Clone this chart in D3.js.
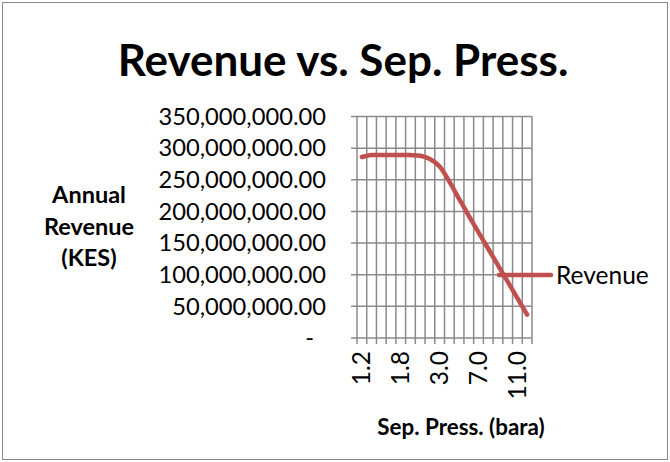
<!DOCTYPE html>
<html>
<head>
<meta charset="utf-8">
<script src="https://cdn.jsdelivr.net/npm/d3@7"></script>
<style>
  html, body { margin: 0; padding: 0; background: #fff; }
  svg { display: block; font-family: Lato, "Open Sans", sans-serif; }
</style>
</head>
<body>
<svg width="670" height="462"></svg>
<script>
// categories (separator pressure, bara) - only every 4th label is shown
const pressures = ["1.2", "1.35", "1.5", "1.65", "1.8", "2.1", "2.4", "2.7", "3.0",
    "4.0", "5.0", "6.0", "7.0", "8.0", "9.0", "10.0", "11.0", "12.0"];
// annual revenue, KES
const revenue = [286e6, 289e6, 289e6, 289e6, 289e6, 289e6, 288e6, 283e6, 271e6,
    247e6, 220e6, 193e6, 167e6, 141e6, 115e6, 89e6, 63e6, 37e6];
const yTicks = [0, 50e6, 100e6, 150e6, 200e6, 250e6, 300e6, 350e6];
const seriesName = "Revenue";

const width = 670;
const height = 462;
const plot = { left: 357, right: 532, top: 116.5, bottom: 338 };
const red = "#C0504D";
const grid = "#8a8a8a";

const svg = d3.select("svg");

// chart area border
svg.append("rect")
    .attr("x", 2.5).attr("y", 2.5)
    .attr("width", width - 5).attr("height", height - 5)
    .attr("fill", "#fff")
    .attr("stroke", "#888").attr("stroke-width", 1);

const x = d3.scaleBand()
    .domain(pressures)
    .range([plot.left, plot.right])
    .padding(0);

const y = d3.scaleLinear()
    .domain([0, 350e6])
    .range([plot.bottom, plot.top]);

// horizontal gridlines
svg.append("g")
    .selectAll("line")
    .data(yTicks)
    .join("line")
    .attr("x1", plot.left - 6).attr("x2", plot.right)
    .attr("y1", d => y(d))
    .attr("y2", d => y(d))
    .attr("stroke", grid).attr("stroke-width", 1.5);

// vertical gridlines at category boundaries
const bounds = pressures.map(p => x(p)).concat([x.range()[1]]);
svg.append("g")
    .selectAll("line")
    .data(bounds)
    .join("line")
    .attr("x1", d => d).attr("x2", d => d)
    .attr("y1", plot.top).attr("y2", plot.bottom + 6)
    .attr("stroke", grid).attr("stroke-width", 1.5);

// y tick labels
const fmt = d3.format(",.2f");
svg.append("g")
    .selectAll("text")
    .data(yTicks)
    .join("text")
    .attr("x", d => d === 0 ? 314 : 326)
    .attr("y", d => y(d))
    .attr("dy", "0.35em")
    .attr("text-anchor", "end")
    .attr("font-size", 23.7)
    .attr("fill", "#000")
    .text(d => d === 0 ? "-" : fmt(d));

// x tick labels, every 4th category, rotated
svg.append("g")
    .selectAll("text")
    .data(pressures.filter((p, i) => i % 4 === 0))
    .join("text")
    .attr("transform", d => `translate(${x(d) + x.bandwidth() / 2},351) rotate(-90)`)
    .attr("dy", "0.35em")
    .attr("text-anchor", "end")
    .attr("font-size", 24.5)
    .attr("fill", "#000")
    .text(d => d);

// revenue line
const line = d3.line()
    .x((d, i) => x(pressures[i]) + x.bandwidth() / 2)
    .y(d => y(d))
    .curve(d3.curveCatmullRom);

svg.append("path")
    .datum(revenue)
    .attr("d", line)
    .attr("fill", "none")
    .attr("stroke", red)
    .attr("stroke-width", 4.5)
    .attr("stroke-linecap", "round")
    .attr("stroke-linejoin", "round");

// legend
const legendY = 275;
svg.append("line")
    .attr("x1", 499).attr("x2", 551)
    .attr("y1", legendY).attr("y2", legendY)
    .attr("stroke", red).attr("stroke-width", 4.5)
    .attr("stroke-linecap", "round");
svg.append("text")
    .attr("x", 556).attr("y", legendY)
    .attr("dy", "0.35em")
    .attr("font-size", 24.5)
    .attr("fill", "#000")
    .text(seriesName);

// title
svg.append("text")
    .attr("x", 343).attr("y", 76)
    .attr("text-anchor", "middle")
    .attr("font-size", 44)
    .attr("font-weight", "bold")
    .attr("fill", "#000")
    .text("Revenue vs. Sep. Press.");

// y axis title
svg.append("text")
    .attr("text-anchor", "middle")
    .attr("font-size", 23.5)
    .attr("font-weight", "bold")
    .attr("fill", "#000")
    .selectAll("tspan")
    .data(["Annual", "Revenue", "(KES)"])
    .join("tspan")
    .attr("x", 89)
    .attr("y", (d, i) => 203 + i * 31.5)
    .text(d => d);

// x axis title
svg.append("text")
    .attr("x", 461).attr("y", 435)
    .attr("text-anchor", "middle")
    .attr("font-size", 22.4)
    .attr("font-weight", "bold")
    .attr("fill", "#000")
    .text("Sep. Press. (bara)");
</script>
</body>
</html>
